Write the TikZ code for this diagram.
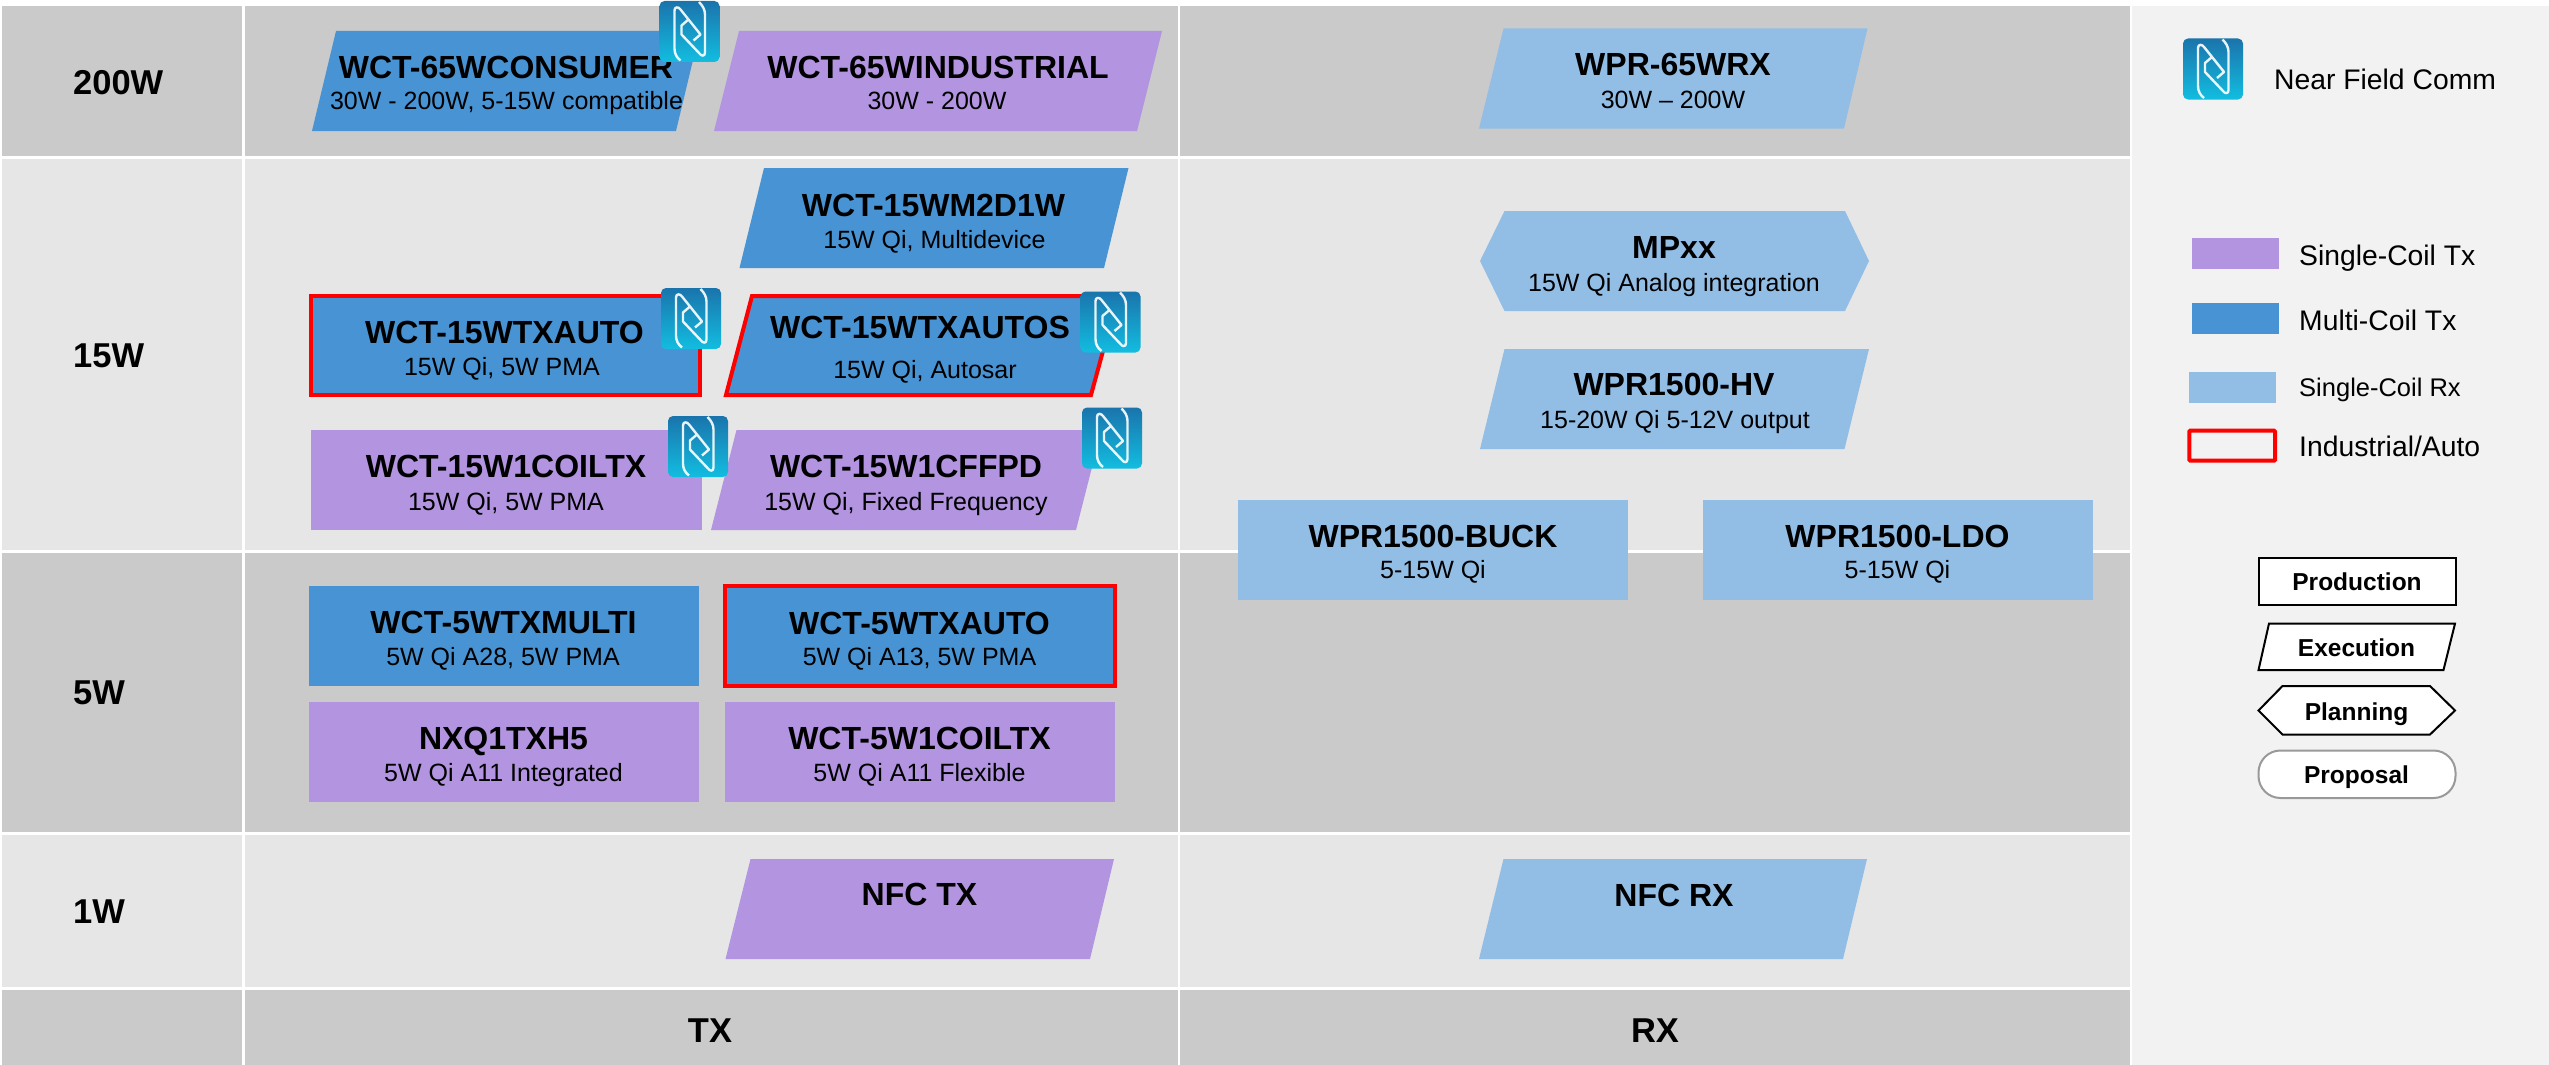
\documentclass[tikz,border=0pt]{standalone}
\usepackage{fontspec}
\setmainfont{Liberation Sans}
\usepackage{xcolor}
\definecolor{rowdark}{HTML}{CACACA}
\definecolor{rowlight}{HTML}{E6E6E6}
\definecolor{panelgray}{HTML}{F2F2F2}
\definecolor{singletx}{HTML}{B294E0}
\definecolor{multitx}{HTML}{4893D3}
\definecolor{singlerx}{HTML}{92BEE6}
\definecolor{autored}{HTML}{FF0000}
\definecolor{nfctop}{HTML}{1A74AC}
\definecolor{nfcbot}{HTML}{12BDE0}
\tikzset{
  capbox/.style={text=black, inner sep=0pt, text depth=0pt},
  parttitle/.style={capbox, text height=23pt, font=\fontsize{32}{32}\selectfont\bfseries, anchor=center},
  partsub/.style={capbox, text height=18pt, font=\fontsize{25}{25}\selectfont, anchor=center},
  rowlabel/.style={capbox, text height=24.8pt, font=\fontsize{34.5}{34.5}\selectfont\bfseries, anchor=west},
  legendtxt/.style={capbox, text height=20.4pt, font=\fontsize{28.3}{28.3}\selectfont, anchor=west},
  stagetxt/.style={capbox, text height=17.6pt, font=\fontsize{24.5}{24.5}\selectfont\bfseries, anchor=center},
  redline/.style={draw=autored, line width=4pt, line join=miter},
  stageline/.style={draw=black, line width=2pt, fill=white},
  nfcicon/.pic={
    \shade[top color=nfctop, bottom color=nfcbot, rounded corners=5pt] (-30,-30.5) rectangle (30,30.5);
    \draw[white, opacity=0.9, line width=2.4pt, line join=round]
      (-9,29) .. controls (-13,26) and (-15,22) .. (-15,17) -- (-15,-21)
        .. controls (-15,-25) and (-11,-25) .. (-9,-22) -- (11,3) -- (4,9)
      (9.5,-29.5) .. controls (13,-26) and (15.5,-22) .. (15.5,-17) -- (15.5,21)
        .. controls (15.5,25) and (12,25) .. (10,22) -- (-8,3) -- (-8,-6) -- (-1,-12);
  }
}
\begin{document}
\begin{tikzpicture}[x=1pt, y=-1pt]

% === Size ===
\useasboundingbox (0,0) rectangle (2549,1065);
\fill[white] (0,0) rectangle (2549,1065);

% === Side panel ===
\fill[panelgray] (2132,6) rectangle (2549,1065);

% === Grid rows ===
\foreach \ya/\yb/\rowcol in {6/155.5/rowdark, 158.5/550/rowlight, 552.5/832/rowdark, 835/986.5/rowlight, 989.5/1065/rowdark} {
  \fill[\rowcol] (1.5,\ya) rectangle (242,\yb);
  \fill[\rowcol] (245,\ya) rectangle (1177.5,\yb);
  \fill[\rowcol] (1180,\ya) rectangle (2130,\yb);
}

% === Row and column labels ===
\node[rowlabel] (r200) at (73,82) {200W};
\node[rowlabel] (r15) at (73,355) {15W};
\node[rowlabel] (r5) at (73,692) {5W};
\node[rowlabel] (r1) at (73,911) {1W};
\node[rowlabel, anchor=center] (coltx) at (710,1030) {TX};
\node[rowlabel, anchor=center] (colrx) at (1655,1030) {RX};

% === 200W ===
\fill[multitx] (336,31) -- (700,31) -- (676,131) -- (312,131) -- cycle;
\node[parttitle] (consumer) at (506,67) {WCT-65WCONSUMER};
\node[partsub] (consumersub) at (506.5,100.5) {30W - 200W, 5-15W compatible};

\fill[singletx] (739,31) -- (1162,31) -- (1137,131) -- (714,131) -- cycle;
\node[parttitle] (industrial) at (938,67) {WCT-65WINDUSTRIAL};
\node[partsub] (industrialsub) at (937,100.5) {30W - 200W};

\fill[singlerx] (1503.5,28.5) -- (1867.5,28.5) -- (1844,128.5) -- (1479,128.5) -- cycle;
\node[parttitle] (rx65) at (1673,64.5) {WPR-65WRX};
\node[partsub] (rx65sub) at (1673,99) {30W – 200W};

% === 15W TX ===
\fill[multitx] (764,168) -- (1128.5,168) -- (1104,268) -- (739.5,268) -- cycle;
\node[parttitle] (m2d) at (933.5,204.5) {WCT-15WM2D1W};
\node[partsub] (m2dsub) at (934.5,239) {15W Qi, Multidevice};

\fill[multitx, redline] (311,296) rectangle (700,395);
\node[parttitle] (txauto) at (504.5,331.5) {WCT-15WTXAUTO};
\node[partsub] (txautosub) at (502,366) {15W Qi, 5W PMA};

\fill[multitx, redline] (752,296) -- (1118,296) -- (1091,395) -- (726,395) -- cycle;
\node[parttitle] (txautos) at (920,327) {WCT-15WTXAUTOS};
\node[partsub] (txautossub) at (925,369) {15W Qi, Autosar};

\fill[singletx] (310.5,430) rectangle (701.5,530);
\node[parttitle] (coiltx) at (506,466) {WCT-15W1COILTX};
\node[partsub] (coiltxsub) at (506,501) {15W Qi, 5W PMA};

\fill[singletx] (736.5,430) -- (1101.5,430) -- (1076,530) -- (711,530) -- cycle;
\node[parttitle] (cffpd) at (906,466) {WCT-15W1CFFPD};
\node[partsub] (cffpdsub) at (906,501) {15W Qi, Fixed Frequency};

% === 15W RX ===
\fill[singlerx] (1480,261) -- (1504.5,211) -- (1845,211) -- (1869,261) -- (1845,311) -- (1504.5,311) -- cycle;
\node[parttitle] (mpxx) at (1674,246.5) {MPxx};
\node[partsub] (mpxxsub) at (1674,282) {15W Qi Analog integration};

\fill[singlerx] (1504.5,349) -- (1869,349) -- (1844.5,449) -- (1480,449) -- cycle;
\node[parttitle] (hv) at (1674,384) {WPR1500-HV};
\node[partsub] (hvsub) at (1675,419) {15-20W Qi 5-12V output};

\fill[singlerx] (1238,500) rectangle (1628,600);
\node[parttitle] (buck) at (1433,536) {WPR1500-BUCK};
\node[partsub] (bucksub) at (1433,569.5) {5-15W Qi};

\fill[singlerx] (1703,500) rectangle (2093,600);
\node[parttitle] (ldo) at (1897.5,536) {WPR1500-LDO};
\node[partsub] (ldosub) at (1897.5,569.5) {5-15W Qi};

% === 5W ===
\fill[multitx] (309,586) rectangle (699,686);
\node[parttitle] (multi5) at (503.5,622) {WCT-5WTXMULTI};
\node[partsub] (multi5sub) at (503,656) {5W Qi A28, 5W PMA};

\fill[multitx, redline] (725,586) rectangle (1115,686);
\node[parttitle] (auto5) at (919.5,622.5) {WCT-5WTXAUTO};
\node[partsub] (auto5sub) at (919.5,656) {5W Qi A13, 5W PMA};

\fill[singletx] (309,702) rectangle (699,802);
\node[parttitle] (nxq) at (503.5,737.5) {NXQ1TXH5};
\node[partsub] (nxqsub) at (503.5,772) {5W Qi A11 Integrated};

\fill[singletx] (725,702) rectangle (1115,802);
\node[parttitle] (coil5) at (919.5,737.5) {WCT-5W1COILTX};
\node[partsub] (coil5sub) at (919.5,772) {5W Qi A11 Flexible};

% === 1W ===
\fill[singletx] (750.5,859) -- (1114,859) -- (1090,959) -- (725.5,959) -- cycle;
\node[parttitle] (nfctx) at (919.5,894) {NFC TX};

\fill[singlerx] (1503.5,859) -- (1867,859) -- (1843,959) -- (1479,959) -- cycle;
\node[parttitle] (nfcrx) at (1674,895) {NFC RX};

% === NFC marks ===
\pic at (689.5,31.5) {nfcicon};
\pic at (691,318.5) {nfcicon};
\pic at (1110.5,322) {nfcicon};
\pic at (698,446.5) {nfcicon};
\pic at (1112,438) {nfcicon};
\pic at (2213,69) {nfcicon};

% === Legend ===
\node[legendtxt] (lgnfc) at (2274,79.5) {Near Field Comm};

\fill[singletx] (2192,238) rectangle (2279,269);
\node[legendtxt] (lgsingle) at (2299,255) {Single-Coil Tx};
\fill[multitx] (2192,303) rectangle (2279,334);
\node[legendtxt] (lgmulti) at (2299,320.5) {Multi-Coil Tx};
\fill[singlerx] (2189,372) rectangle (2276,403);
\node[legendtxt, text height=18.4pt, font=\fontsize{25.5}{25.5}\selectfont] (lgrx) at (2299,387) {Single-Coil Rx};
\draw[redline, rounded corners=1pt] (2189.3,430.7) rectangle (2275,460.7);
\node[legendtxt] (lgind) at (2299,446) {Industrial/Auto};

% === Stages ===
\filldraw[stageline] (2258.5,558) rectangle (2456,605);
\node[stagetxt] (production) at (2357,582) {Production};
\filldraw[stageline] (2269,623.5) -- (2455,623.5) -- (2443.5,670) -- (2258.5,670) -- cycle;
\node[stagetxt] (execution) at (2356.5,647.5) {Execution};
\filldraw[stageline] (2258.5,710.5) -- (2282.5,686) -- (2430,686) -- (2455,710.5) -- (2430,734.5) -- (2282.5,734.5) -- cycle;
\node[stagetxt] (planning) at (2356.5,711.5) {Planning};
\filldraw[stageline, draw=black!40, rounded corners=22pt] (2258.5,750.5) rectangle (2455.5,798);
\node[stagetxt] (proposal) at (2356.5,775) {Proposal};

\end{tikzpicture}
\end{document}
